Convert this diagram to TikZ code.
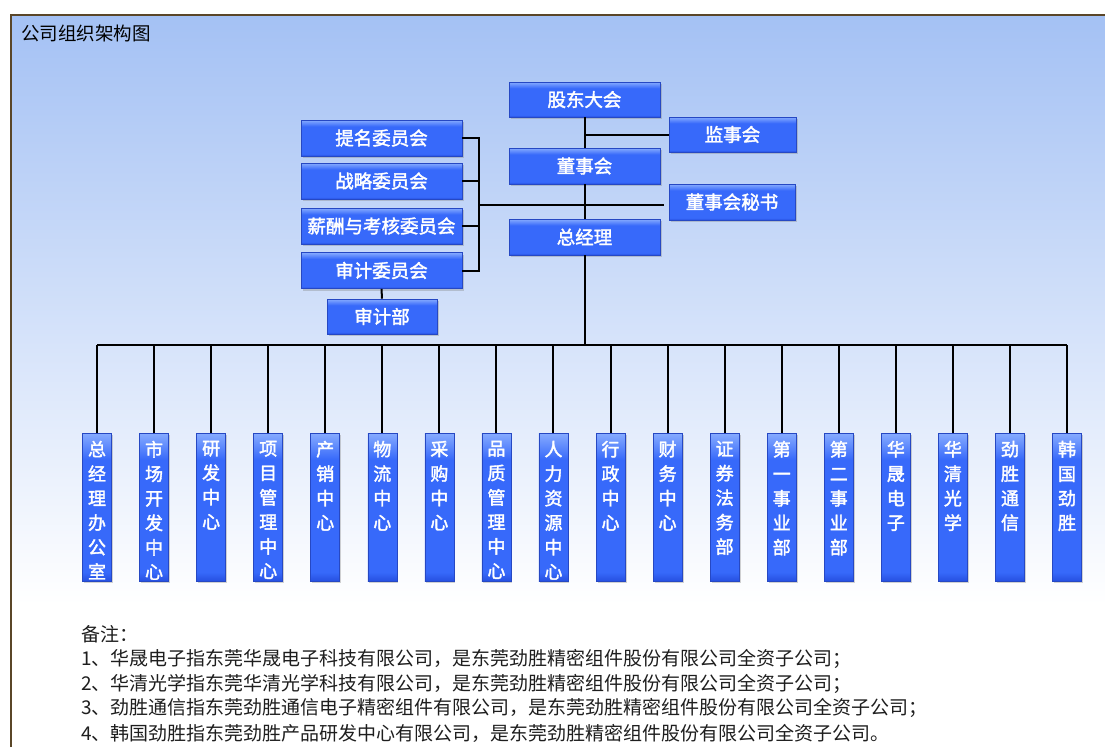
\documentclass[tikz,border=0pt]{standalone}
\usepackage{fontspec}
\newfontfamily\cjk{Noto Sans CJK SC}
\newfontfamily\cjkb{Noto Sans CJK SC}[FakeBold=2]
\usetikzlibrary{shadows}
\definecolor{bgtop}{RGB}{164,193,244}
\definecolor{framec}{RGB}{90,70,40}
\definecolor{boxtop}{RGB}{135,172,255}
\definecolor{boxmid}{RGB}{55,105,250}
\definecolor{boxbot}{RGB}{38,80,225}
\definecolor{boxedge}{RGB}{38,72,195}
\definecolor{notec}{RGB}{30,30,30}
\pgfdeclareverticalshading{boxshade}{100bp}{color(0bp)=(boxbot); color(25bp)=(boxbot); color(28bp)=(boxmid); color(66bp)=(boxmid); color(75bp)=(boxtop); color(100bp)=(boxtop)}
\tikzset{
  unit/.style={draw=boxedge, line width=0.6pt, shading=boxshade,
    drop shadow={shadow xshift=1.5pt, shadow yshift=-2pt, opacity=0.35}, inner sep=0pt},
  hbox/.style={unit, minimum height=35pt, text=white, font=\cjkb\fontsize{18.5}{20}\selectfont},
  vbox/.style={unit, minimum width=29pt, minimum height=148pt},
  vtext/.style={text=white, font=\cjkb\fontsize{18}{24.5}\selectfont, align=center, inner sep=0pt, anchor=north},
  link/.style={line width=2pt, black},
  notetext/.style={anchor=west, inner sep=0pt, text=notec, font=\cjk\fontsize{19}{20}\selectfont},
}
\begin{document}
\begin{tikzpicture}[x=1pt,y=-1pt]
\useasboundingbox (0,0) rectangle (1105,747);
\fill[white] (0,0) rectangle (1105,747);
\fill[top color=bgtop, bottom color=white] (11,15) rectangle (1105,605);
\draw[framec, line width=1.2pt] (11,747) -- (11,15) -- (1105,15);

\node[anchor=west, inner sep=0pt, font=\cjk\fontsize{18.5}{20}\selectfont] (title) at (21,33) {公司组织架构图};

% top level
\node[hbox, minimum width=151pt] (gd) at (584.5,99.5) {股东大会};
\node[hbox, minimum width=127pt] (js) at (732.5,134.5) {监事会};
\node[hbox, minimum width=151pt, minimum height=36pt] (dsh) at (584.5,166) {董事会};
\node[hbox, minimum width=126pt, minimum height=36pt] (ms) at (732,202) {董事会秘书};
\node[hbox, minimum width=151pt, minimum height=36pt] (zjl) at (584.5,237) {总经理};
\node[hbox, minimum width=161pt, minimum height=36pt] (tm) at (381.5,138) {提名委员会};
\node[hbox, minimum width=161pt, minimum height=36pt] (zl) at (381.5,181) {战略委员会};
\node[hbox, minimum width=161pt, minimum height=36pt] (xc) at (381.5,226) {薪酬与考核委员会};
\node[hbox, minimum width=161pt, minimum height=36pt] (sj) at (381.5,270.5) {审计委员会};
\node[hbox, minimum width=110pt] (sjb) at (382,316.5) {审计部};

\coordinate (jc) at (584.5,205);
\coordinate (bk) at (479,205);
\coordinate (bus) at (584.5,345);

\draw[link] (gd.south) -- (dsh.north);
\draw[link] (gd.south |- js.west) -- (js.west);
\draw[link] (dsh.south) -- (zjl.north);
\draw[link, shorten >=5pt] (bk) -- (jc) -- (jc -| ms.west);
\draw[link] (tm.east) -- (tm.east -| bk) -- (sj.east -| bk) -- (sj.east);
\draw[link] (zl.east) -- (zl.east -| bk);
\draw[link] (xc.east) -- (xc.east -| bk);
\draw[link] (sj.south) -- (sjb.north);
\draw[link] (zjl.south) -- (bus);

% departments
\foreach \t [count=\i from 0] in {
  {总\\经\\理\\办\\公\\室},{市\\场\\开\\发\\中\\心},{研\\发\\中\\心},{项\\目\\管\\理\\中\\心},
  {产\\销\\中\\心},{物\\流\\中\\心},{采\\购\\中\\心},{品\\质\\管\\理\\中\\心},
  {人\\力\\资\\源\\中\\心},{行\\政\\中\\心},{财\\务\\中\\心},{证\\券\\法\\务\\部},
  {第\\一\\事\\业\\部},{第\\二\\事\\业\\部},{华\\晟\\电\\子},{华\\清\\光\\学},
  {劲\\胜\\通\\信},{韩\\国\\劲\\胜}} {
  \node[vbox] (b\i) at ({97+57.06*\i},507) {};
  \node[vtext] (t\i) at ([yshift=-8pt]b\i.north) {\t};
  \draw[link] (b\i.north |- bus) -- (b\i.north);
}
\draw[link] (b0.north |- bus) -- (b17.north |- bus);

% notes
\node[notetext] (n0) at (81,634) {备注：};
\node[notetext] (n1) at (81,659) {1、华晟电子指东莞华晟电子科技有限公司，是东莞劲胜精密组件股份有限公司全资子公司；};
\node[notetext] (n2) at (81,684) {2、华清光学指东莞华清光学科技有限公司，是东莞劲胜精密组件股份有限公司全资子公司；};
\node[notetext] (n3) at (81,708) {3、劲胜通信指东莞劲胜通信电子精密组件有限公司，是东莞劲胜精密组件股份有限公司全资子公司；};
\node[notetext] (n4) at (81,733) {4、韩国劲胜指东莞劲胜产品研发中心有限公司，是东莞劲胜精密组件股份有限公司全资子公司。};
\end{tikzpicture}
\end{document}
